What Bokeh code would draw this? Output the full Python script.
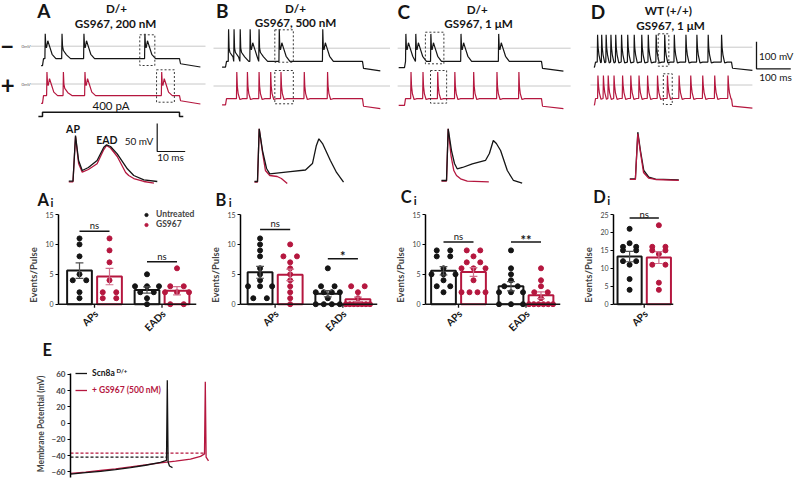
import math
from collections import Counter
import numpy as np
from bokeh.plotting import figure
from bokeh.layouts import column, row
from bokeh.models import Range1d, Label, FixedTicker, Legend, LegendItem, Spacer, Span
from bokeh.embed import file_html
from bokeh.resources import INLINE

FONT = "Lato"
BLK = "#151515"
RED = "#b5173f"
RED_ERR = "#d0708c"
BLK_ERR = "#505050"
GRAY = "#c8c8c8"
BOXC = "#3a3a3a"

# ======================= DATA =======================
LETTERS = ["A", "B", "C", "D"]
GENOTYPE = ["D/+", "D/+", "D/+", "WT (+/+)"]
TREATMENT = ["GS967, 200 nM", "GS967, 500 nM", "GS967, 1 \u03bcM", "GS967, 1 \u03bcM"]

# current step protocol (ms, pA)
STEP_MS = [-12, 0, 0, 400, 400, 411]
STEP_PA = [0, 0, 400, 400, 0, 0]
STEP_LABEL = "400 pA"
STEP_DUR = 400

# spike times (ms after step onset); kind 0 = AP, 1 = AP + EAD, 2 = AP with shoulder
BLK_SPIKES = [[7, 56, 120, 298],
              [8, 24, 42, 71, 97, 156, 283],
              [3, 32, 76, 164, 274],
              [8, 20, 33, 47, 61, 78, 96, 115, 137, 156, 179, 204, 232, 266, 298, 331, 370]]
BLK_KIND = [[1, 2, 1, 1],
            [2, 2, 2, 1, 2, 1, 1],
            [1, 1, 1, 1, 1],
            [0, 0, 0, 0, 0, 0, 0, 0, 0, 0, 0, 0, 0, 0, 0, 0, 0]]
RED_SPIKES = [[12, 60, 123, 347],
              [32, 63, 97, 131, 161, 229, 297],
              [18, 53, 96, 146, 201, 269, 333],
              [9, 25, 39, 56, 81, 105, 129, 154, 183, 212, 246, 280, 315, 350, 389]]
RED_KIND = [[1, 2, 1, 1],
            [0, 0, 0, 0, 0, 0, 0],
            [0, 0, 0, 0, 0, 0, 0],
            [0, 0, 0, 0, 0, 0, 0, 0, 0, 0, 0, 0, 0, 0, 0]]
REST = [-72, -70, -72, -74]
PLATEAU_BLK = [-46, -49, -49, -55]
PLATEAU_RED = [-43, -47, -47, -50]
POST_BLK = [(-65, -77), (-75, -84), (-75, -85), (-78, -86)]
POST_RED = [(-62, -74), (-75, -84), (-75, -84), (-78, -86)]
PEAK_BLK = [46, 70, 53, 46]
PEAK_RED = [44, 52, 52, 35]
EAD_PEAK = 20
TRACE_SPAN = [(-4, 461), (-10, 452), (-17, 464), (-2, 461)]
ZERO_SPAN = [(-35, 476), (-35, 482), (-20, 485), (-12, 461)]
RED_SHIFT = 140
# dashed boxes (ms0, ms1, mV0, mV1)
BOX_BLK = [(284, 328, -71.5, 42.2), (144, 198, -51.9, 68.1), (61, 115, -57.8, 59.3), (186, 217, -70.4, 49.6)]
BOX_RED = [(333, 385, -67.4, 52.6), (144, 198, -65.9, 57.4), (76, 123, -63.7, 57.4), (201, 227, -72.2, 41.5)]

# inset traces (ms, mV)
INSET_BLK_T = [[0, 1.5, 2.4, 3.5, 4.8, 7.0, 10.1, 12.5, 13.5, 14.9, 17.3, 20.9, 23.2, 26.8, 31.6],
               [0, 1.07, 1.68, 2.86, 4.3, 5.46, 12.8, 18.2, 20.7, 22.1, 23.0, 24.3, 27.1, 29.3, 31.8],
               [0, 1.79, 2.39, 3.57, 4.64, 5.6, 7.5, 11.0, 15.7, 17.1, 18.5, 19.6, 21.1, 23.5, 25.7, 28.8],
               [0, 2.0, 2.86, 3.8, 5.0, 6.8, 9.2, 17.5]]
INSET_BLK_V = [[-57.7, -57.7, 23.9, -20.7, -38.6, -33.2, -20.7, 3.0, 7.3, 4.3, -8.8, -35.5, -47.5, -55.2, -58.2],
               [-58.2, -58.2, 35.9, -2.9, -35.0, -44.5, -40.4, -37.7, -26.1, 6.1, 18.0, 9.6, -20.7, -42.1, -59.5],
               [-56.4, -56.4, 35.9, -2.9, -26.1, -35.5, -33.2, -26.6, -20.7, -8.2, 15.0, 9.6, -2.9, -38.6, -56.4, -61.2],
               [-53.4, -53.4, 29.8, -2.9, -38.6, -50.5, -53.8, -55.2]]
INSET_RED_T = [[0, 1.5, 2.4, 3.5, 4.8, 7.0, 10.1, 12.5, 13.5, 14.9, 17.3, 20.3, 21.4, 23.2, 26.8, 30.4],
               [0, 1.07, 1.68, 2.86, 3.9, 5.46, 8.1, 9.6, 11.7],
               [0, 1.79, 2.39, 3.39, 4.4, 5.36, 6.8, 9.2, 16.9],
               [0, 2.0, 2.86, 3.8, 4.9, 6.7, 9.2, 17.5]]
INSET_RED_V = [[-58.8, -58.8, 22.1, -26.1, -41.6, -36.8, -26.6, -1.1, 6.1, 1.6, -13.6, -42.1, -47.5, -52.9, -58.2, -61.2],
               [-59.1, -59.1, 35.9, -6.4, -38.6, -47.5, -49.3, -52.9, -61.8],
               [-57.3, -57.3, 35.9, -11.8, -38.6, -47.5, -53.4, -57.7, -58.8],
               [-54.3, -54.3, 27.0, -6.4, -42.1, -52.0, -54.6, -56.1]]
SCALE_MV, SCALE_MS = 50, 10

# bar charts: events per pulse
CATS = ["APs", "EADs"]
AI_UNTREATED = [[11, 10, 8, 5, 4, 4, 2, 1], [5, 3, 3, 3, 2, 2, 1, 0]]
AI_GS967 = [[11, 9, 7, 4, 2, 2, 1, 1], [6, 3, 3, 2, 2, 2, 0, 0]]
BI_UNTREATED = [[11, 10, 9, 8, 6, 5, 4, 3, 3, 3, 1, 1], [6, 3, 3, 2, 2, 2, 2, 1, 0, 0, 0, 0]]
BI_GS967 = [[10, 8, 8, 7, 6, 5, 4, 3, 2, 1, 0], [3, 3, 2, 1, 0, 0, 0, 0, 0, 0, 0]]
CI_UNTREATED = [[9, 9, 8, 8, 6, 5, 5, 5, 4, 3, 3, 2], [9, 6, 5, 4, 3, 3, 2, 2, 2, 0, 0, 0]]
CI_GS967 = [[9, 9, 8, 7, 7, 6, 6, 6, 4, 2, 2, 2, 2], [6, 4, 3, 2, 2, 1, 0, 0, 0, 0, 0, 0]]
DI_UNTREATED = [[21, 17, 16, 16, 15, 15, 12, 12, 11, 7, 4]]
DI_GS967 = [[22, 16, 16, 15, 15, 14, 11, 11, 6, 4]]
SIG_TEXT = [["ns", "ns"], ["ns", "*"], ["ns", "**"], ["ns"]]
SIG_Y = [[12.2, 7.1], [12.5, 7.6], [10.4, 10.4], [24.0]]

# panel E: membrane potential during ramp
E_T_BLK = [0, 15, 30, 45, 60, 75, 90, 96, 96.8, 97.6, 99, 102]
E_V_BLK = [-63, -61, -59.5, -57.5, -55, -52, -48.5, -46, 53, -48, -53, -55]
E_T_RED = [0, 15, 30, 45, 60, 75, 90, 105, 120, 130, 134, 134.8, 135.6, 138]
E_V_RED = [-62, -60.5, -58.5, -56.5, -54, -51.5, -49, -47, -44.5, -41, -38, 51, -42, -46.5]
E_THR_BLK = -42
E_THR_RED = -37
E_TICKS = [-60, -40, -20, 0, 20, 40, 60]

# ======================= LAYOUT =======================
PPMS, PPMV = 0.3425, 0.27
IPMS, IPMV, IZ = 2.8, 0.56, 148.4
TOP_L = [0, 208, 390, 580]
TOP_R = [208, 390, 580, 800]
ONSET = [42, 225, 404, 594]
ZERO_Y = [45.7, 47.7, 47.7, 46.7]
W1 = [208, 182, 190, 220]
ROW2_TOP, ROW3_TOP, ROW3_BOT = 122, 209, 340
H1, H2, H3, HS, H4 = 122, 87, 131, 25, 117
INSET_X0 = [68.3, 254, 441, 629.3]
AX_TOP, AX_ZERO = 214, 303.7   # bar-chart axis extent (reference pixels)
CAT_ANGLE = -315               # degrees; same direction as +45 (text rising to the right)


def base(w, h, xr, yr, **kw):
    opts = dict(min_border=0)
    opts.update(kw)
    p = figure(width=w, height=h, x_range=Range1d(*xr), y_range=Range1d(*yr),
               output_backend="svg", toolbar_location=None, outline_line_color=None, **opts)
    p.background_fill_color = "white"
    p.border_fill_color = "white"
    return p


def lab(p, x, y, text, size, bold=False, color=BLK, align="center", baseline="middle",
        angle=0.0, yoff=0):
    p.add_layout(Label(x=x, y=y, text=text, text_font=FONT, text_font_size=f"{size}px",
                       text_font_style="bold" if bold else "normal", text_color=color,
                       text_align=align, text_baseline=baseline, angle=angle, angle_units="deg",
                       y_offset=yoff))


def shape(kind, pk, pl):
    if kind == 0:
        return [(1.0, pk), (2.5, 0.0), (5.0, -28.0), (10.0, pl - 3), (18.0, pl)]
    if kind == 1:
        return [(1.0, pk), (2.5, 5.0), (4.5, -6.0), (8.5, EAD_PEAK), (13.0, 2.0), (21.0, -30.0), (32.0, pl)]
    return [(1.0, pk), (2.5, 0.0), (5.0, -16.0), (14.0, -32.0), (26.0, pl)]


def build(spikes, kinds, pk, pl, rest, post, span):
    T, V = [span[0], 0.0], [rest, rest]
    if spikes[0] > 3.5:
        T.append(3.0); V.append(pl)
    for k, s in enumerate(spikes):
        nxt = spikes[k + 1] if k + 1 < len(spikes) else STEP_DUR
        T.append(s); V.append(pl)
        for dt, v in shape(kinds[k], pk, pl):
            if s + dt < nxt - 0.3:
                T.append(s + dt); V.append(v)
    T += [STEP_DUR, STEP_DUR + 3, span[1]]
    V += [pl, post[0], post[1]]
    return T, V


def top_panel(i):
    L, R, on, z = TOP_L[i], TOP_R[i], ONSET[i], ZERO_Y[i]
    cx = lambda xr: (xr - on) / PPMS
    cy = lambda yr: (z - yr) / PPMV
    p = base(W1[i], H1, (cx(L), cx(R)), (cy(ROW2_TOP), cy(0)), x_axis_type=None, y_axis_type=None)
    zs = list(ZERO_SPAN[i])
    p.line(zs, [0, 0], line_color=GRAY, line_width=1)
    p.line(zs, [-RED_SHIFT, -RED_SHIFT], line_color=GRAY, line_width=1)
    t, v = build(BLK_SPIKES[i], BLK_KIND[i], PEAK_BLK[i], PLATEAU_BLK[i], REST[i], POST_BLK[i], TRACE_SPAN[i])
    p.line(t, v, line_color=BLK, line_width=1.2)
    t, v = build(RED_SPIKES[i], RED_KIND[i], PEAK_RED[i], PLATEAU_RED[i], REST[i], POST_RED[i], TRACE_SPAN[i])
    p.line(t, [x - RED_SHIFT for x in v], line_color=RED, line_width=1.2)
    b = BOX_BLK[i]
    p.quad(left=[b[0]], right=[b[1]], bottom=[b[2]], top=[b[3]], fill_alpha=0,
           line_color=BOXC, line_dash="2 2", line_width=1)
    b = BOX_RED[i]
    p.quad(left=[b[0]], right=[b[1]], bottom=[b[2] - RED_SHIFT], top=[b[3] - RED_SHIFT], fill_alpha=0,
           line_color=BOXC, line_dash="2 2", line_width=1)
    LET_X = [43.3, 221.7, 403.3, 597.5]
    LET_Y = [10, 10, 10.8, 10.8]
    G_X = [116, 295, 476.7, 668]
    G_Y = [7.5, 7.5, 8.3, 9.5]
    T_X = [115, 295, 478, 670]
    T_Y = [22.5, 21.5, 22.5, 24]
    lab(p, cx(LET_X[i]), cy(LET_Y[i]), LETTERS[i], 19, True)
    lab(p, cx(G_X[i]), cy(G_Y[i]), GENOTYPE[i], 11.7, True)
    lab(p, cx(T_X[i]), cy(T_Y[i]), TREATMENT[i], 11.7, True)
    if i == 0:
        lab(p, cx(6.7), cy(45), "\u2212", 24, True)
        lab(p, cx(7.2), cy(84), "+", 24, True)
        lab(p, cx(25.5), 0, "0mV", 4.5, color="#666666")
        lab(p, cx(25.5), -RED_SHIFT, "0mV", 4.5, color="#666666")
        y0 = cy(116)
        k = (cy(111.7) - cy(116)) / 400.0
        p.line(STEP_MS, [y0 + a * k for a in STEP_PA], line_color=BLK, line_width=1.5)
        lab(p, cx(110.5), cy(105), STEP_LABEL, 11.5)
    if i == 3:
        sx = cx(756)
        p.line([sx, sx, sx + 100], [20, -80, -80], line_color=BLK, line_width=1.3)
        lab(p, cx(758.5), cy(55), "100 mV", 10, align="left")
        lab(p, cx(775), cy(76.5), "100 ms", 10)
    return p


def inset_panel(i):
    L, R, x0 = TOP_L[i], TOP_R[i], INSET_X0[i]
    cx = lambda xr: (xr - x0) / IPMS
    cy = lambda yr: (IZ - yr) / IPMV
    p = base(W1[i], H2, (cx(L), cx(R)), (cy(ROW3_TOP), cy(ROW2_TOP)), x_axis_type=None, y_axis_type=None)
    if i == 3:
        p.line(INSET_BLK_T[i], INSET_BLK_V[i], line_color=BLK, line_width=1.3)
        p.line(INSET_RED_T[i], INSET_RED_V[i], line_color=RED, line_width=1.3)
    else:
        p.line(INSET_RED_T[i], INSET_RED_V[i], line_color=RED, line_width=1.3)
        p.line(INSET_BLK_T[i], INSET_BLK_V[i], line_color=BLK, line_width=1.3)
    SL_X = [42.7, 220.5, 405.8, 599]
    SL_Y = [199.0, 199.0, 196.7, 196.7]
    SI_X = [50, 228.3, 413.3, 606.7]
    SI_Y = [201.5, 201.5, 200.0, 200.0]
    lab(p, cx(SL_X[i]), cy(SL_Y[i]), LETTERS[i], 16.5, True)
    lab(p, cx(SI_X[i]), cy(SI_Y[i]), "i", 11.5, True, align="left")
    if i == 0:
        bx, by = cx(156.7), cy(151)
        p.line([bx, bx, bx + SCALE_MS], [by + SCALE_MV, by, by], line_color=BLK, line_width=1.2)
        lab(p, cx(152.7), cy(140), "50 mV", 10, align="right")
        lab(p, cx(170), cy(156.3), "10 ms", 10)
        lab(p, cx(72.5), cy(128.3), "AP", 10.5, True)
        lab(p, cx(106.3), cy(139.3), "EAD", 10.5, True)
    return p


def swarm(vals, cx):
    xs, ys = [], []
    for v, n in sorted(Counter(vals).items()):
        sp = min(9.0, 16.0 / (n - 1)) if n > 1 else 0.0
        for k in range(n):
            xs.append(cx + (k - (n - 1) / 2.0) * sp)
            ys.append(v)
    return xs, ys


def bar_panel(j, w, lb, rb, x_end, groups, unt, gs, ymax, yticks, legend=False):
    ppu = (AX_ZERO - AX_TOP) / ymax            # pixels per unit
    y0 = -(ROW3_BOT - AX_ZERO) / ppu
    ytop = ymax + (AX_TOP - ROW3_TOP) / ppu
    p = base(w, H3, (0, x_end), (y0, ytop), min_border_left=lb, min_border_right=rb,
             x_axis_location=None)
    p.grid.visible = False
    rs = []
    for g, u, r, sy, st, cat in zip(groups, unt, gs, SIG_Y[j], SIG_TEXT[j], CATS):
        for off, vals, col, ecol in ((-10, u, BLK, BLK_ERR), (10, r, RED, RED_ERR)):
            c = g + off
            m = float(np.mean(vals))
            sem = float(np.std(vals, ddof=1) / np.sqrt(len(vals)))
            p.vbar(x=[c], top=[m], bottom=0, width=16.5, fill_color="white", line_color=col, line_width=2)
            xs, ys = swarm(vals, c)
            rs.append(p.scatter(xs, ys, size=5, color=col))
            p.segment(x0=[c], y0=[m - sem], x1=[c], y1=[m + sem], line_color=ecol, line_width=1.2)
            p.segment(x0=[c - 2.6, c - 2.6], y0=[m - sem, m + sem], x1=[c + 2.6, c + 2.6],
                      y1=[m - sem, m + sem], line_color=ecol, line_width=1.2)
        p.segment(x0=[g - 10], y0=[sy], x1=[g + 10], y1=[sy], line_color=BLK, line_width=1.5)
        if st == "ns":
            lab(p, g, sy, st, 9.5, yoff=5.5 if ymax == 15 else 4)
        else:
            lab(p, g, sy, st, 13, True, yoff=2.5)
        # category tick and rotated category label
        p.segment(x0=[g], y0=[0], x1=[g], y1=[-3.5 / ppu], line_color=BLK, line_width=1.3)
        lab(p, g + 1, -7.5 / ppu, cat, 10, True, align="right", angle=CAT_ANGLE)
    p.add_layout(Span(location=0, dimension="width", line_color=BLK, line_width=1.5))
    ax = p.yaxis[0]
    ax.bounds = (0, ymax)
    ax.ticker = FixedTicker(ticks=yticks)
    ax.axis_label = "Events/Pulse"
    ax.axis_label_text_font = FONT
    ax.axis_label_text_font_size = "9.5px"
    ax.axis_label_text_font_style = "bold"
    ax.axis_label_standoff = 3
    ax.major_label_text_font = FONT
    ax.major_label_text_font_size = "7px"
    ax.major_label_standoff = 2
    ax.major_tick_in = 0
    ax.major_tick_out = 3
    ax.minor_tick_line_color = None
    ax.axis_line_width = 1.5
    if legend:
        lg = Legend(items=[LegendItem(label="Untreated", renderers=[rs[0]]),
                           LegendItem(label="GS967", renderers=[rs[1]])],
                    location=(84, int(round(ROW3_BOT - 229))), glyph_width=8, glyph_height=9,
                    label_height=9, label_standoff=6, spacing=0, padding=0, margin=0,
                    border_line_color=None, background_fill_alpha=0,
                    label_text_font=FONT, label_text_font_size="8.5px", label_text_font_style="bold")
        p.add_layout(lg)
    return p


def e_strip():
    p = base(800, HS, (0, 800), (365, 340), x_axis_type=None, y_axis_type=None)
    lab(p, 46.7, 349, "E", 16.5, True)
    return p


def e_panel():
    p = base(300, H4, (0, 220), (-73.3, 71.1), min_border_left=70, min_border_right=10,
             x_axis_location=None)
    p.grid.visible = False
    ib = int(np.argmax(E_V_BLK))
    ir = int(np.argmax(E_V_RED))
    p.line([0, E_T_BLK[ib]], [E_THR_BLK, E_THR_BLK], line_color=BLK, line_dash="3 2", line_width=1.2)
    p.line([0, E_T_RED[ir]], [E_THR_RED, E_THR_RED], line_color=RED, line_dash="3 2", line_width=1.2)
    rr = p.line(E_T_RED, E_V_RED, line_color=RED, line_width=1.3)
    rb = p.line(E_T_BLK, E_V_BLK, line_color=BLK, line_width=1.3)
    common = dict(glyph_width=12, glyph_height=10, label_height=10, label_standoff=5, spacing=0,
                  padding=0, margin=0, border_line_color=None, background_fill_alpha=0,
                  label_text_font=FONT, label_text_font_size="8.5px", label_text_font_style="bold")
    p.add_layout(Legend(items=[LegendItem(label="Scn8a", renderers=[rb])], location=(5, 104),
                        label_text_color=BLK, **common))
    p.add_layout(Legend(items=[LegendItem(label="+ GS967 (500 nM)", renderers=[rr])], location=(5, 87),
                        label_text_color=RED, **common))
    lab(p, 46, 64.5, "D/+", 6, True, align="left")
    ax = p.yaxis[0]
    ax.bounds = (-67, 61)
    ax.ticker = FixedTicker(ticks=E_TICKS)
    ax.axis_label = "Membrane Potential (mV)"
    ax.axis_label_text_font = FONT
    ax.axis_label_text_font_size = "8.5px"
    ax.axis_label_text_font_style = "bold"
    ax.axis_label_standoff = 3
    ax.major_label_text_font = FONT
    ax.major_label_text_font_size = "8px"
    ax.major_label_text_font_style = "bold"
    ax.major_label_standoff = 2
    ax.major_tick_in = 0
    ax.major_tick_out = 3
    ax.minor_tick_line_color = None
    ax.axis_line_width = 1.5
    return p


row1 = row([top_panel(i) for i in range(4)], spacing=0)
row2 = row([inset_panel(i) for i in range(4)], spacing=0)
row3 = row([
    bar_panel(0, 203, 58, 7, 92, [24, 69], AI_UNTREATED, AI_GS967, 15, [0, 5, 10, 15], legend=True),
    bar_panel(1, 185, 37, 11, 91, [23, 68], BI_UNTREATED, BI_GS967, 15, [0, 5, 10, 15]),
    bar_panel(2, 192, 37, 20, 90, [22, 67], CI_UNTREATED, CI_GS967, 15, [0, 5, 10, 15]),
    bar_panel(3, 220, 32, 127, 41, [21], DI_UNTREATED, DI_GS967, 25, [0, 5, 10, 15, 20, 25]),
], spacing=0)
row4 = row([e_panel(), Spacer(width=500, height=H4)], spacing=0)
root = column([row1, row2, row3, e_strip(), row4], spacing=0)

open("out.html", "w").write(file_html(root, INLINE))
